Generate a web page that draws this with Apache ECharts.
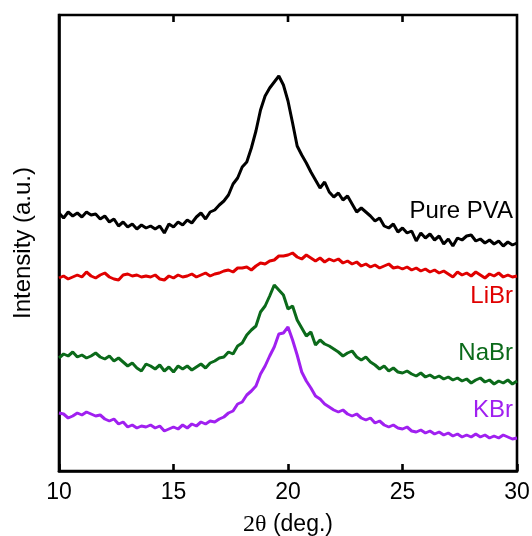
<!DOCTYPE html>
<html><head><meta charset="utf-8">
<script src="https://cdn.jsdelivr.net/npm/echarts@6/dist/echarts.min.js"></script>
<style>html,body{margin:0;padding:0;background:#fff}#c{width:532px;height:536px}</style>
</head><body><div id="c"></div>
<script>
// 2θ from 10 to 30 in steps of 0.2
var twoTheta = [];
for (var i = 0; i <= 100; i++) twoTheta.push(+(10 + i * 0.2).toFixed(1));

var xTicks = [10, 15, 20, 25, 30];
var yMax = 456;

var purePVA = [
258,253,259,255,258,254,259,256,257,252,
255,249,252,245,249,244,247,242,246,243,
245,242,245,238,247,244,249,246,251,248,
254,258,252,259,261,266,270,276,287,293,
304,309,323,340,361,375,383,389,395,386,
370,348,325,316,308,299,291,283,289,279,
274,278,271,275,267,259,263,259,255,250,
253,245,243,247,239,243,238,240,230,238,
233,237,231,235,227,232,225,233,231,235,
236,230,232,228,231,227,230,225,229,226,
228];

var liBr = [
193,195,192,194,196,194,199,195,193,196,
198,194,192,191,196,197,195,196,194,195,
194,196,192,191,195,193,196,194,195,197,
194,196,198,195,197,198,200,201,199,203,
203,204,201,205,208,207,210,211,215,215,
216,218,214,212,216,213,210,213,209,212,
210,212,208,210,207,209,205,207,204,206,
203,205,207,203,204,202,204,201,203,200,
202,199,201,198,200,197,194,199,196,198,
195,199,196,193,197,195,198,194,196,194,
195];

var naBr = [
113,117,115,119,114,116,113,115,118,114,
112,115,110,113,109,105,108,103,100,107,
105,102,106,100,104,99,105,102,105,101,
104,107,103,108,110,113,114,119,117,125,
128,136,141,145,159,165,175,186,181,176,
162,165,151,143,135,139,126,131,127,125,
122,119,115,118,120,114,111,114,109,106,
102,105,100,103,99,98,100,97,95,98,
94,96,93,95,92,94,91,93,90,92,
88,91,93,89,91,87,90,88,91,87,
90];

var kBr = [
58,57,53,55,58,56,59,57,55,56,
52,50,52,47,49,44,46,43,45,44,
46,43,45,40,42,44,42,46,43,47,
45,49,47,50,49,52,54,58,60,67,
69,76,80,85,97,105,115,124,137,138,
144,131,116,99,90,83,75,72,67,64,
61,59,61,57,55,57,53,51,53,48,
50,46,44,46,43,42,44,40,39,41,
38,40,37,39,36,38,35,37,34,36,
34,37,34,36,33,35,33,36,34,32,
33];

var seriesNames = ['Pure PVA', 'LiBr', 'NaBr', 'KBr'];
var seriesData = [purePVA, liBr, naBr, kBr];
var seriesColors = ['#000000', '#e00000', '#0b6a1a', '#a020f0'];
var labelY = [213, 298, 355, 412];

function pairs(arr) {
  return arr.map(function (v, i) { return [twoTheta[i], v]; });
}

var chart = echarts.init(document.getElementById('c'), null, {renderer: 'canvas'});
var font = 'Liberation Sans, Arial, sans-serif';
function mkLine() { return {show: true, onZero: false, lineStyle: {color: '#000', width: 2.6}}; }

var series = seriesData.map(function (d, k) {
  return {
    name: seriesNames[k], type: 'line', data: pairs(d), showSymbol: false, symbol: 'none',
    lineStyle: {color: seriesColors[k], width: 3}, z: 3
  };
});

// inward ticks on the top frame, placed through the axis scale
series.push({
  type: 'custom', silent: true, z: 5, clip: false,
  data: xTicks.slice(1, xTicks.length - 1).map(function (v) { return [v, yMax]; }),
  encode: {x: 0, y: 1},
  renderItem: function (params, api) {
    var p = api.coord([api.value(0), api.value(1)]);
    return {type: 'line', shape: {x1: p[0], y1: p[1], x2: p[0], y2: p[1] + 7},
      style: {stroke: '#000', lineWidth: 2.6}};
  }
});

chart.setOption({
  animation: false,
  backgroundColor: '#fff',
  grid: {left: 59, right: 15, top: 15, bottom: 65, containLabel: false, outerBoundsMode: 'none',
    show: true, borderColor: '#000', borderWidth: 2.6, backgroundColor: 'transparent'},
  xAxis: {
    type: 'value', min: 10, max: 30, interval: 5, position: 'bottom',
    axisLine: mkLine(),
    axisTick: {show: true, inside: true, length: 7, lineStyle: {color: '#000', width: 2.6}},
    axisLabel: {color: '#000', fontSize: 23, fontFamily: font, margin: 10,
      formatter: function (v) { return xTicks.indexOf(v) >= 0 ? String(v) : ''; }},
    splitLine: {show: false},
    name: '{s|2θ} (deg.)', nameLocation: 'middle', nameGap: 42,
    nameTextStyle: {color: '#000', fontSize: 23, fontFamily: font,
      rich: {s: {fontFamily: 'Liberation Serif, Times New Roman, serif', fontSize: 24, color: '#000'}}}
  },
  yAxis: {
    type: 'value', min: 0, max: yMax, position: 'left',
    axisLine: mkLine(), axisTick: {show: false}, axisLabel: {show: false}, splitLine: {show: false},
    name: 'Intensity (a.u.)', nameLocation: 'middle', nameGap: 24,
    nameTextStyle: {color: '#000', fontSize: 24, fontFamily: font}
  },
  series: series,
  graphic: seriesNames.map(function (n, k) {
    return {
      type: 'text', right: 19, top: labelY[k] - 14,
      style: {text: n, fill: seriesColors[k], font: '24px ' + font}
    };
  })
});
</script>
</body></html>
